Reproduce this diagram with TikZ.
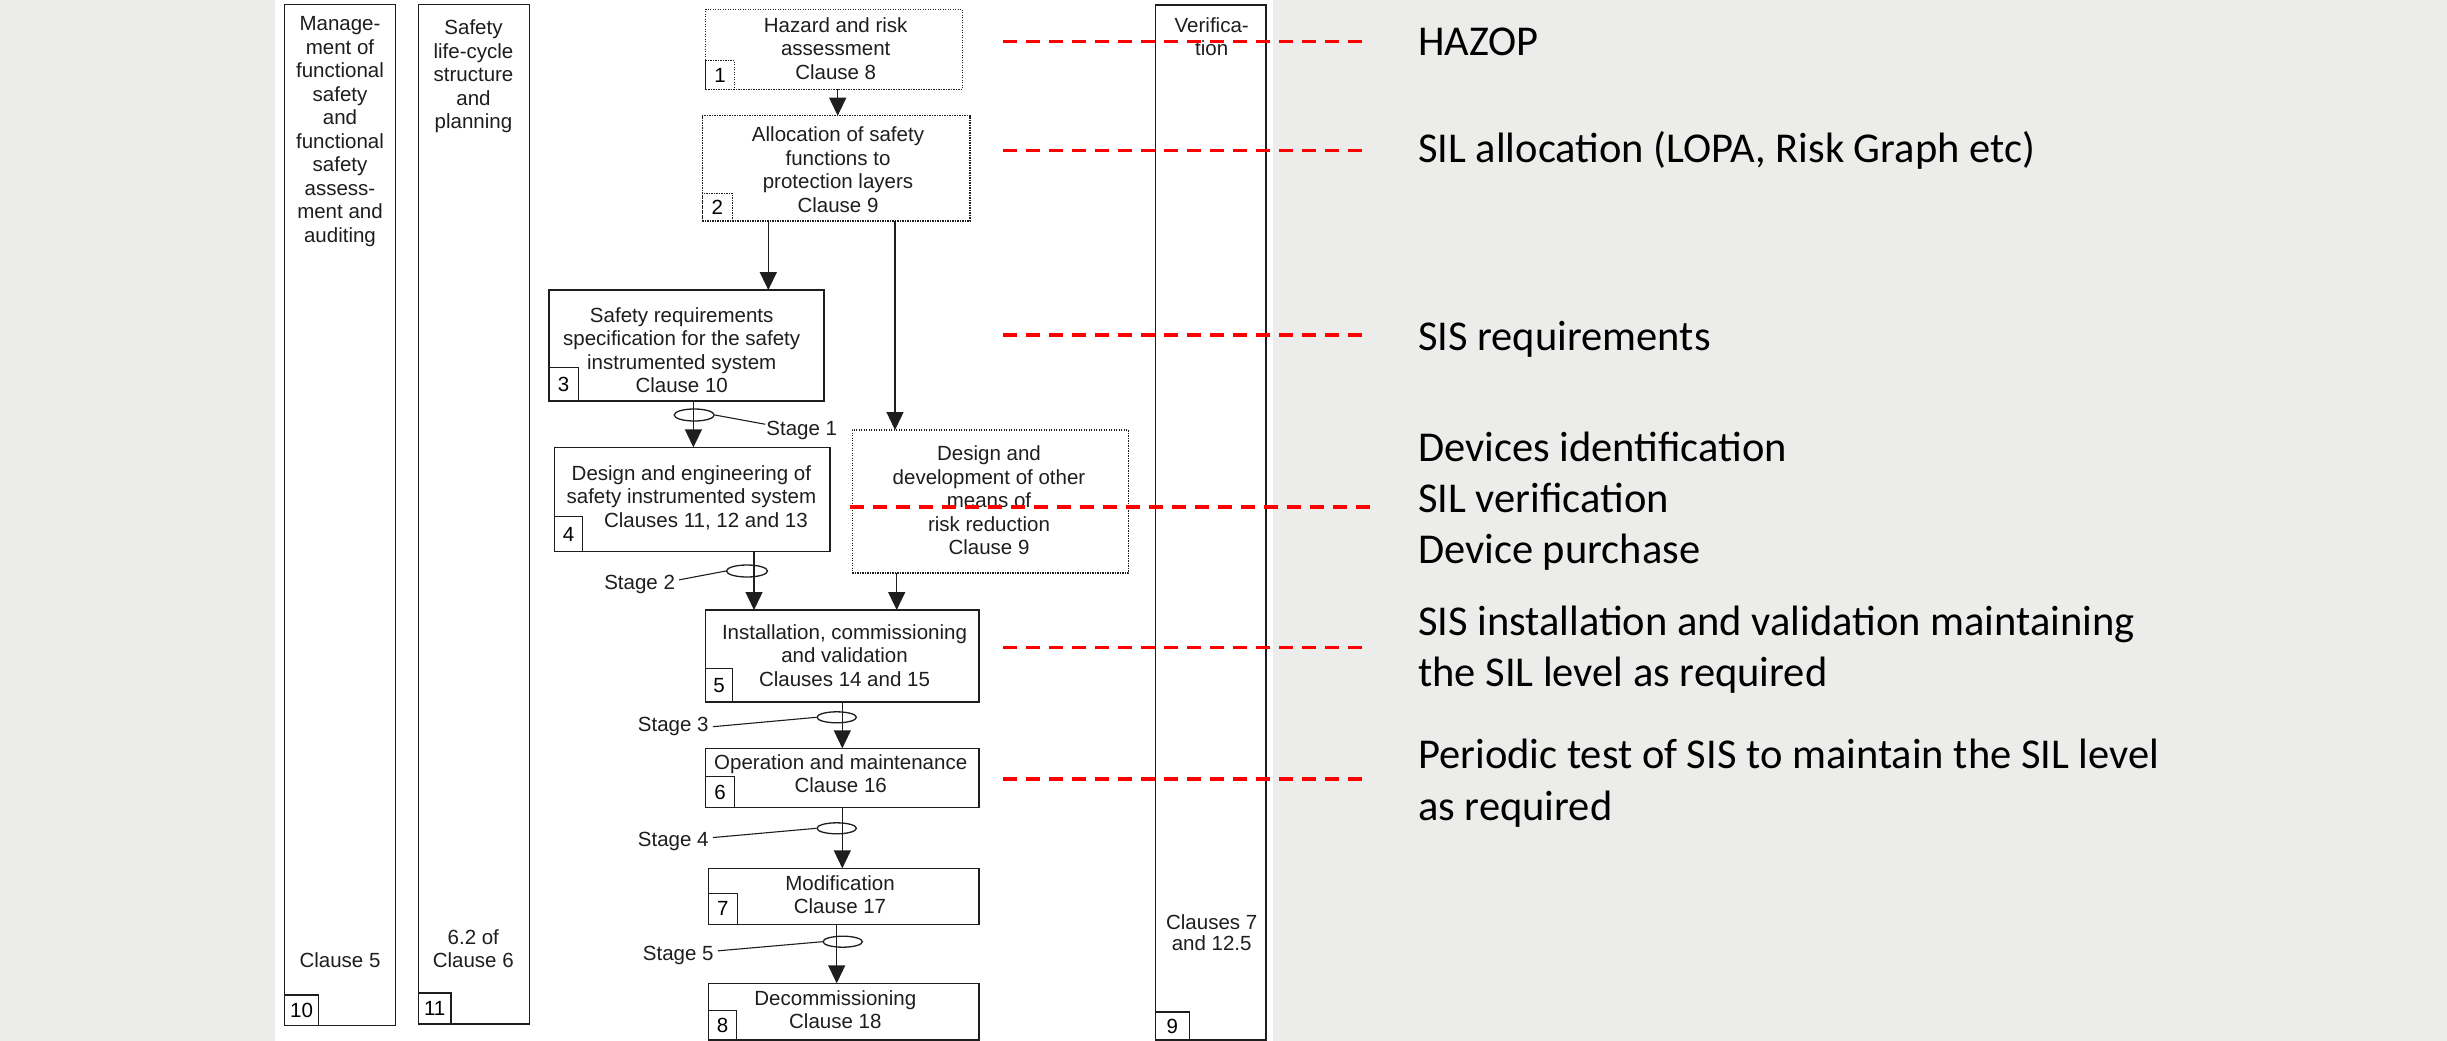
\documentclass[tikz,border=0pt]{standalone}
\usepackage{fontspec}
\setmainfont{Liberation Sans}
\newfontfamily\calib{Carlito}
\usetikzlibrary{arrows.meta,shapes.geometric}
\definecolor{bggray}{RGB}{236,236,234}
\definecolor{ink}{RGB}{30,30,30}
\begin{document}
\begin{tikzpicture}[x=1pt,y=-1pt,
  frame/.style={draw=ink, line width=1.5pt, rectangle, inner sep=0pt, outer sep=0pt},
  dotbox/.style={draw=ink, line width=1.3pt, dash pattern=on 1.3pt off 1.2pt, rectangle, inner sep=0pt, outer sep=0pt},
  numbox/.style={draw=ink, line width=1.3pt, rectangle, inner sep=0pt, outer sep=0pt, font=\fontsize{20.5}{23.5}\selectfont},
  dotnum/.style={dotbox, font=\fontsize{20.5}{23.5}\selectfont},
  txt/.style={font=\fontsize{20.5}{23.5}\selectfont, align=center, inner sep=0pt, text=ink},
  stagetxt/.style={font=\fontsize{20.5}{23.5}\selectfont, inner ysep=0pt, inner xsep=2pt, text=ink},
  ring/.style={draw=ink, line width=1.3pt, ellipse, inner sep=0pt},
  arr/.style={draw=ink, line width=1.4pt, -{Triangle[length=18pt,width=17pt]}},
  lead/.style={draw=ink, line width=1.1pt},
  reddash/.style={draw=red, line width=3.2pt, dash pattern=on 13.5pt off 9.5pt},
  rtxt/.style={font=\calib\fontsize{42.5}{51}\selectfont, anchor=base west, inner sep=0pt, text=black}
]
% background
\fill[bggray] (0,0) rectangle (2447,1041);
\fill[white] (275,0) rectangle (1273,1041);
\useasboundingbox (0,0) rectangle (2447,1041);

% side columns
\node[frame, minimum width=111.4pt, minimum height=1021pt] (c10) at (340,515.2) {};
\node[frame, minimum width=111pt, minimum height=1019.3pt] (c11) at (473.8,514.35) {};
\node[frame, minimum width=110.7pt, minimum height=1035pt] (c9) at (1210.65,522.5) {};
\node[numbox, minimum width=34.4pt, minimum height=30.7pt] (n10) at (301.5,1010.35) {10};
\node[numbox, minimum width=32.7pt, minimum height=31pt] (n11) at (434.65,1008.5) {11};
\node[numbox, minimum width=34pt, minimum height=28pt] (n9) at (1172.3,1026) {9};

\node[txt] (c10t) at (340,131.8) {Manage-\\ment of\\functional\\safety\\and\\functional\\safety\\assess-\\ment and\\auditing};
\node[txt] (c10b) at (340,960) {Clause 5};
\node[txt] (c11t) at (473.5,76.3) {Safety\\life-cycle\\structure\\and\\planning};
\node[txt] (c11b) at (473.3,948.5) {6.2 of\\Clause 6};
\node[txt] (c9t) at (1211.7,36.5) {Verifica-\\tion};
\node[txt, font=\fontsize{20.5}{21}\selectfont] (c9b) at (1211.7,932.5) {Clauses 7\\and 12.5};

% main boxes
\node[dotbox, minimum width=256.6pt, minimum height=80pt] (b1) at (834,49.3) {};
\node[dotnum, minimum width=28.6pt, minimum height=28.6pt] (s1) at (720,75) {1};
\node[txt] (b1t) at (835.7,48.5) {Hazard and risk\\assessment\\Clause 8};

\node[dotbox, minimum width=267.7pt, minimum height=105.3pt] (b2) at (836.15,168.35) {};
\node[dotnum, minimum width=30pt, minimum height=27.7pt] (s2) at (717.3,207.15) {2};
\node[txt] (b2t) at (838,169.5) {Allocation of safety\\functions to\\protection layers\\Clause 9};

\node[frame, minimum width=275pt, minimum height=111pt] (b3) at (686.5,345.5) {};
\node[numbox, minimum width=29.3pt, minimum height=33.7pt] (s3) at (563.65,384.15) {3};
\node[txt] (b3t) at (681.7,350) {Safety requirements\\specification for the safety\\instrumented system\\Clause 10};

\node[frame, minimum width=275.2pt, minimum height=104.4pt] (b4) at (692.2,499.5) {};
\node[numbox, minimum width=28.1pt, minimum height=35pt] (s4) at (568.65,534.2) {4};
\node[txt] (b4t) at (691.4,497.5) {Design and engineering of\\safety instrumented system\\\hspace*{29pt}Clauses 11, 12 and 13};

\node[dotbox, minimum width=276pt, minimum height=143pt] (bo) at (990.4,501.5) {};
\node[txt] (bot) at (989,500.2) {Design and\\development of other\\means of\\risk reduction\\Clause 9};

\node[frame, minimum width=273.7pt, minimum height=92pt] (b5) at (842.15,656) {};
\node[numbox, minimum width=27.4pt, minimum height=33.7pt] (s5) at (719,685.15) {5};
\node[txt] (b5t) at (844.5,655.5) {Installation, commissioning\\and validation\\Clauses 14 and 15};

\node[frame, minimum width=273.7pt, minimum height=59.4pt] (b6) at (842.15,778) {};
\node[numbox, minimum width=29.4pt, minimum height=31pt] (s6) at (720,792.2) {6};
\node[txt] (b6t) at (840.7,773.7) {Operation and maintenance\\Clause 16};

\node[frame, minimum width=270.7pt, minimum height=56pt] (b7) at (843.65,896.3) {};
\node[numbox, minimum width=29pt, minimum height=31pt] (s7) at (722.8,908.8) {7};
\node[txt] (b7t) at (840,894.7) {Modification\\Clause 17};

\node[frame, minimum width=270.7pt, minimum height=56.7pt] (b8) at (843.65,1011.65) {};
\node[numbox, minimum width=28.4pt, minimum height=29.3pt] (s8) at (722.5,1025.35) {8};
\node[txt] (b8t) at (835.3,1009.5) {Decommissioning\\Clause 18};

% arrows
\draw[arr] (b1.south -| 837.7,0) -- (b2.north -| 837.7,0);
\draw[arr] (b2.south -| 768.3,0) -- (b3.north -| 768.3,0);
\draw[arr] (b2.south -| 895,0) -- (bo.north -| 895,0);
\draw[arr] (b3.south -| 693.4,0) -- (b4.north -| 693.4,0);
\draw[arr] (b4.south -| 754,0) -- (b5.north -| 754,0);
\draw[arr] (bo.south -| 896.7,0) -- (b5.north -| 896.7,0);
\draw[arr] (b5.south -| 842.3,0) -- (b6.north -| 842.3,0);
\draw[arr] (b6.south -| 842.3,0) -- (b7.north -| 842.3,0);
\draw[arr] (b7.south -| 836.7,0) -- (b8.north -| 836.7,0);

% stage rings and labels
\node[ring, minimum width=40pt, minimum height=12pt] (e1) at (694.2,415) {};
\node[ring, minimum width=41pt, minimum height=12pt] (e2) at (747,571) {};
\node[ring, minimum width=39.4pt, minimum height=11pt] (e3) at (836.7,717.3) {};
\node[ring, minimum width=39.4pt, minimum height=11pt] (e4) at (836.7,828.3) {};
\node[ring, minimum width=39.4pt, minimum height=11pt] (e5) at (842.7,941.7) {};
\node[stagetxt, inner xsep=1pt] (st1) at (801.8,430.7) {Stage 1};
\node[stagetxt, inner xsep=4pt] (st2) at (639.6,584) {Stage 2};
\node[stagetxt, inner xsep=4pt] (st3) at (673.3,726.7) {Stage 3};
\node[stagetxt, inner xsep=4pt] (st4) at (673.3,841.7) {Stage 4};
\node[stagetxt, inner xsep=4pt] (st5) at (678.3,955.7) {Stage 5};
\draw[lead] (e1.east) -- (st1.170);
\draw[lead] (st2.6) -- (e2.west);
\draw[lead] (st3.east) -- (e3.west);
\draw[lead] (st4.6) -- (e4.west);
\draw[lead] (st5.7) -- (e5.west);

% right-hand notes
\node[rtxt] (r1) at (1418,56) {HAZOP};
\node[rtxt] (r2) at (1418,162) {SIL allocation (LOPA, Risk Graph etc)};
\node[rtxt] (r3) at (1418,350) {SIS requirements};
\node[rtxt] (r4a) at (1418,461.7) {Devices identification};
\node[rtxt] (r4b) at (1418,512.3) {SIL verification};
\node[rtxt] (r4c) at (1418,563.3) {Device purchase};
\node[rtxt] (r5a) at (1418,635) {SIS installation and validation maintaining};
\node[rtxt] (r5b) at (1418,686.7) {the SIL level as required};
\node[rtxt] (r6a) at (1418,768.3) {Periodic test of SIS to maintain the SIL level};
\node[rtxt] (r6b) at (1418,820) {as required};

% red dashed leaders
\coordinate (d1a) at (1003,41.5);  \coordinate (d1b) at (1367,41.5);
\coordinate (d2a) at (1003,150.7); \coordinate (d2b) at (1367,150.7);
\coordinate (d3a) at (1003,335);   \coordinate (d3b) at (1367,335);
\coordinate (d4a) at (850,507);    \coordinate (d4b) at (1373,507);
\coordinate (d5a) at (1003,647.5); \coordinate (d5b) at (1367,647.5);
\coordinate (d6a) at (1003,779);   \coordinate (d6b) at (1367,779);
\draw[reddash] (d1a) -- (d1b);
\draw[reddash] (d2a) -- (d2b);
\draw[reddash] (d3a) -- (d3b);
\draw[reddash] (d4a) -- (d4b);
\draw[reddash] (d5a) -- (d5b);
\draw[reddash] (d6a) -- (d6b);
\end{tikzpicture}
\end{document}
